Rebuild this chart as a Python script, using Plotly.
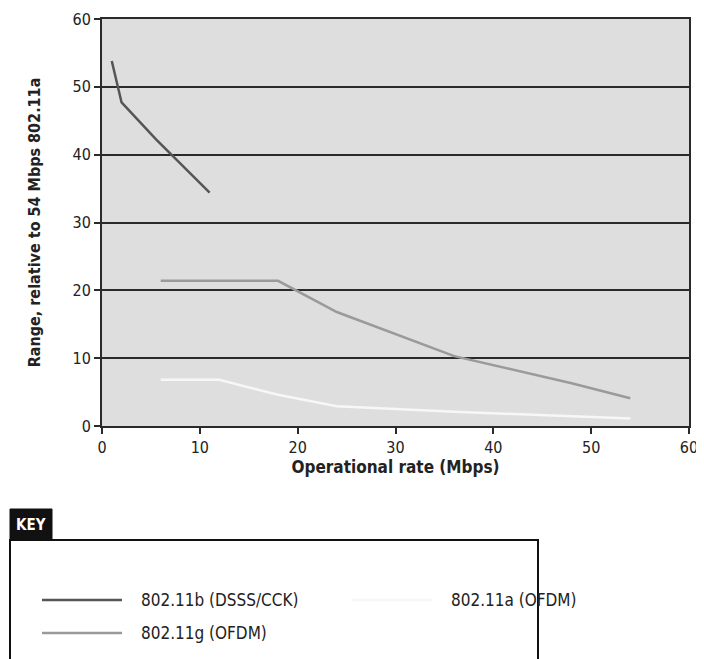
import plotly.graph_objects as go

# ---------------------------------------------------------------------------
# Data
# ---------------------------------------------------------------------------
b_rate = [1, 2, 5.5, 11]
b_range = [53.8, 47.7, 42.3, 34.4]

g_rate = [6, 9, 12, 18, 24, 36, 48, 54]
g_range = [21.4, 21.4, 21.4, 21.4, 16.8, 10.3, 6.3, 4.1]

a_rate = [6, 9, 12, 18, 24, 36, 48, 54]
a_range = [6.8, 6.8, 6.8, 4.6, 2.9, 2.1, 1.5, 1.1]

series = [
    ("802.11b (DSSS/CCK)", b_rate, b_range, "#555555"),
    ("802.11g (OFDM)", g_rate, g_range, "#9a9a9a"),
    ("802.11a (OFDM)", a_rate, a_range, "#f7f7f7"),
]

FONT = "DejaVu Sans Condensed, DejaVu Sans, sans-serif"
# the page body adds an 8px margin, so work in page px and shift by OFF
OFF = 8
W, H = 712, 660
L, T = 102 - OFF, 19 - OFF
R = W - (689 - OFF)
B = H - (426 - OFF)
PW, PH = W - L - R, H - T - B


def px_x(x):
    return (x - OFF - L) / PW


def px_y(y):
    return (H - B - (y - OFF)) / PH


fig = go.Figure()
for name, x, y, color in series:
    fig.add_trace(go.Scatter(x=x, y=y, mode="lines", name=name,
                             line=dict(color=color, width=2.5),
                             showlegend=False))

# hand-drawn key box underneath the chart
shapes = [
    dict(type="rect", xref="paper", yref="paper",
         x0=px_x(10), x1=px_x(538), y0=px_y(700), y1=px_y(540),
         line=dict(color="#111111", width=2), fillcolor="white", layer="below"),
    dict(type="rect", xref="paper", yref="paper",
         x0=px_x(10), x1=px_x(52), y0=px_y(540), y1=px_y(509),
         line=dict(color="#111111", width=1), fillcolor="#111111", layer="below"),
]
annotations = [
    dict(text="<b>KEY</b>", xref="paper", yref="paper", x=px_x(31), y=px_y(525),
         xanchor="center", yanchor="middle", showarrow=False,
         font=dict(family=FONT, size=15, color="white")),
]
key_pos = [(42, 600), (42, 633), (352, 600)]
for (name, _, _, color), (kx, ky) in zip(series, key_pos):
    shapes.append(dict(type="line", xref="paper", yref="paper",
                       x0=px_x(kx), x1=px_x(kx + 80), y0=px_y(ky), y1=px_y(ky),
                       line=dict(color=color, width=2.5)))
    annotations.append(dict(text=name, xref="paper", yref="paper",
                            x=px_x(kx + 97), y=px_y(ky), xanchor="left",
                            yanchor="middle", showarrow=False,
                            font=dict(family=FONT, size=17, color="#222222")))

fig.update_layout(
    width=W, height=H,
    margin=dict(l=L, r=R, t=T, b=B, autoexpand=False),
    paper_bgcolor="white", plot_bgcolor="#dedede",
    font=dict(family=FONT, size=16, color="#222222"),
    shapes=shapes, annotations=annotations,
    xaxis=dict(range=[0, 60], dtick=10, showgrid=False, zeroline=False,
               automargin=False,
               showline=True, mirror=True, linecolor="#2a2a2a", linewidth=2,
               ticks="outside", ticklen=6, tickwidth=2, tickcolor="#2a2a2a",
               title=dict(text="<b>Operational rate (Mbps)</b>",
                          font=dict(size=17), standoff=4)),
    yaxis=dict(range=[0, 60], dtick=10, showgrid=True, gridcolor="#2a2a2a",
               gridwidth=2, zeroline=False, automargin=False,
               showline=True, mirror=True, linecolor="#2a2a2a", linewidth=2,
               ticks="outside", ticklen=6, tickwidth=2, tickcolor="#2a2a2a",
               title=dict(text="<b>Range, relative to 54 Mbps 802.11a</b>",
                          font=dict(size=16), standoff=28)),
)

fig.write_html("out.html")
